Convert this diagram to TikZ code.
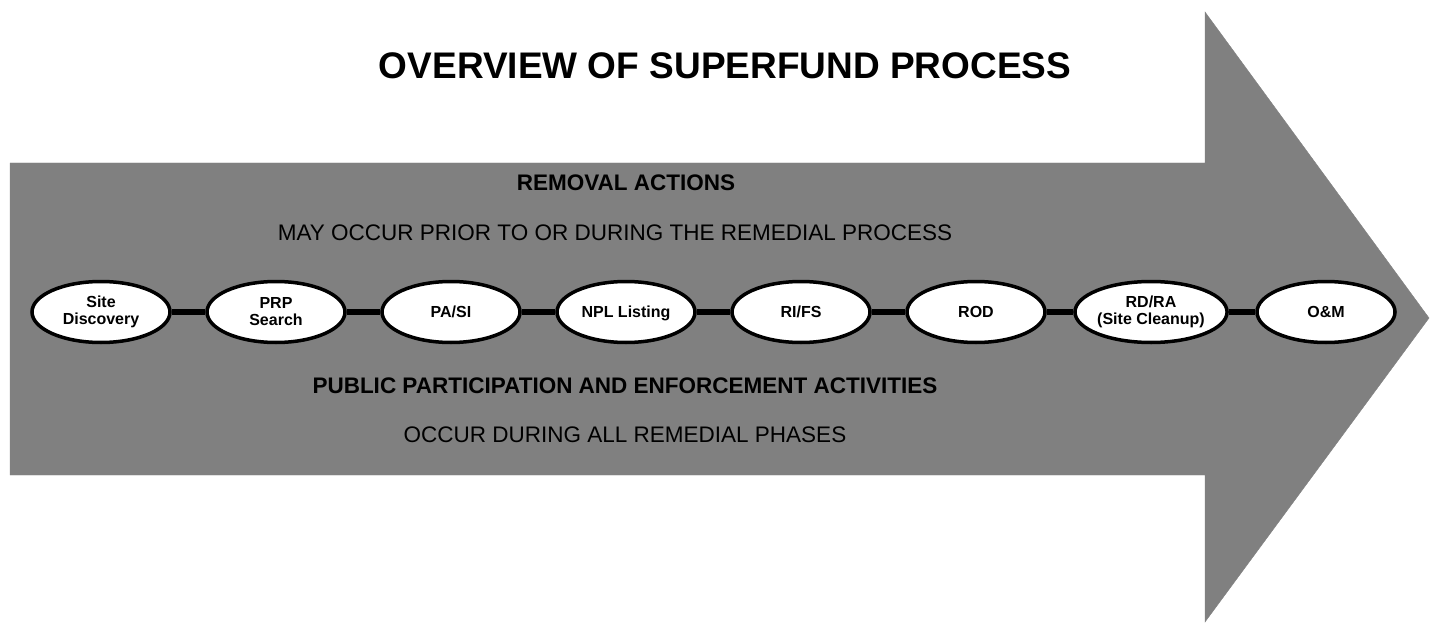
\documentclass[tikz,border=0pt]{standalone}
\usepackage{fontspec}
\setmainfont{Liberation Sans}
\usetikzlibrary{shapes.geometric}
\tikzset{
  phase/.style={ellipse,draw,fill=white,line width=3.5pt,
    minimum width=138pt,minimum height=61pt,inner sep=0pt,
    align=center,font=\fontsize{16}{17}\selectfont\bfseries},
  link/.style={line width=6pt},
  band text/.style={font=\fontsize{22.5}{24}\selectfont}
}
\begin{document}
\begin{tikzpicture}[x=1pt,y=1pt]
        \useasboundingbox (0,0) rectangle (1431,625);
        \filldraw
          [fill=black!50,draw=black!50]
          (10,462)
          -- (1205,462)
          -- (1205,613)
          -- (1429,307)
          -- (1205,3)
          -- (1205,150)
          -- (10,150)
          -- cycle
        ;
        \node (title) at (725,559)
          [font=\fontsize{37}{40}\selectfont\bfseries]
          {OVERVIEW OF SUPERFUND PROCESS};
        \node (removal) at (626,442)
          [band text,font=\fontsize{22.5}{24}\selectfont\bfseries]
          {REMOVAL ACTIONS};
        \node (removal note) at (615,392)
          [band text] {MAY OCCUR PRIOR TO OR DURING THE REMEDIAL PROCESS};
        \node (public) at (625,239)
          [band text,font=\fontsize{22.5}{24}\selectfont\bfseries]
          {PUBLIC PARTICIPATION AND ENFORCEMENT ACTIVITIES};
        \node (public note) at (625,190)
          [band text] {OCCUR DURING ALL REMEDIAL PHASES};
        % remedial phases
        \node [phase] (site discovery) at (101,313) {Site\\Discovery};
        \node [phase] (prp search) at (276,313) {PRP\\Search};
        \node [phase] (pa si) at (451,313) {PA/SI};
        \node [phase,text depth=0pt] (npl listing) at (626,313) {NPL Listing};
        \node [phase] (ri fs) at (801,313) {RI/FS};
        \node [phase] (rod) at (976,313) {ROD};
        \node [phase] (rd ra) at (1151,313) {RD/RA\\(Site Cleanup)};
        \node [phase] (om) at (1326,313) {O\&M};
        \draw [link] (site discovery) -- (prp search);
        \draw [link] (prp search) -- (pa si);
        \draw [link] (pa si) -- (npl listing);
        \draw [link] (npl listing) -- (ri fs);
        \draw [link] (ri fs) -- (rod);
        \draw [link] (rod) -- (rd ra);
        \draw [link] (rd ra) -- (om);
      \end{tikzpicture}
\end{document}
